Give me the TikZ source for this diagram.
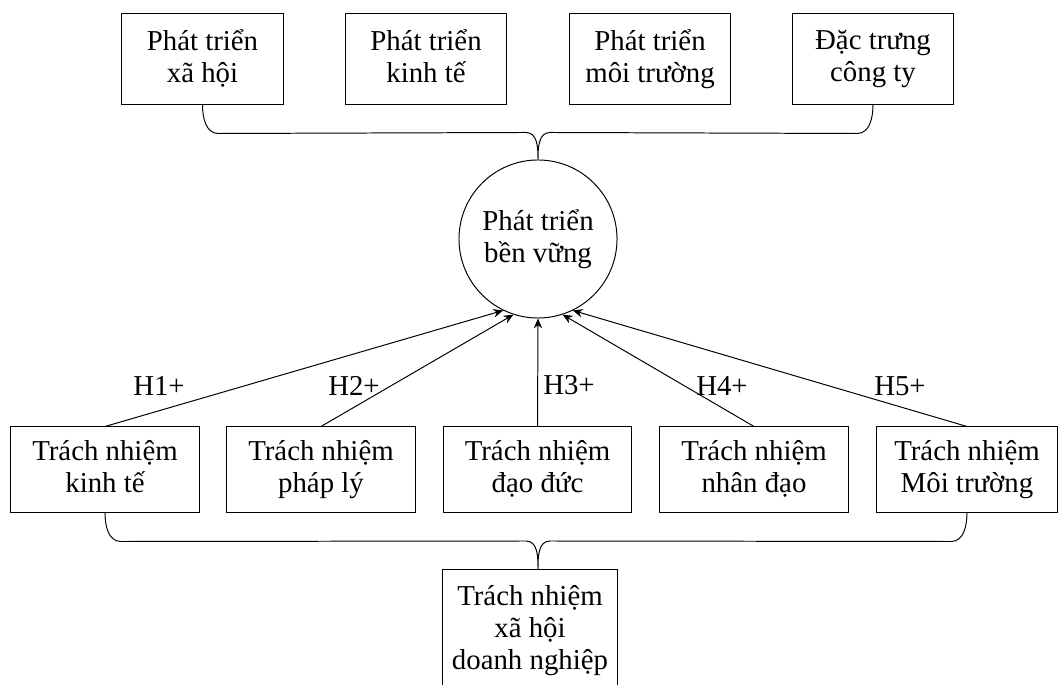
\documentclass[tikz,border=0pt]{standalone}
\usepackage{fontspec}
\setmainfont{Liberation Serif}
\usetikzlibrary{arrows.meta,calc}
\newcommand{\topstrut}{\rule{0pt}{26pt}}
\newcommand{\botstrut}{\rule[-4pt]{0pt}{4pt}}
\begin{document}
\lineskiplimit=-20pt\relax
\begin{tikzpicture}[x=0.025cm,y=0.025cm,
  font=\fontsize{20.5}{22.8}\selectfont,
  txt/.style={align=center,inner sep=0pt,
    execute at begin node=\topstrut,
    execute at end node=\botstrut},
  box/.style={draw,line width=0.7pt,txt,minimum width=4.7cm,minimum height=2.125cm},
  topbox/.style={box,minimum width=4.025cm,minimum height=2.25cm},
  arr/.style={draw,line width=0.7pt,-{Stealth[length=7pt,width=6pt]}},
  brace/.style={draw,line width=0.7pt}]
\useasboundingbox (0,0) rectangle (1058,684);
% top row
\node[topbox] (a1) at (202.5,625) {Phát triển\\xã hội};
\node[topbox] (a2) at (426,625) {Phát triển\\kinh tế};
\node[topbox] (a3) at (650,625) {Phát triển\\môi trường};
\node[topbox] (a4) at (873,625) {Đặc trưng\\công ty};
% centre
\node[draw,circle,line width=0.7pt,txt,minimum size=3.95cm] (c) at (538,445) {Phát triển\\bền vững};
% bottom row
\node[box] (b1) at (105,214.5) {Trách nhiệm\\kinh tế};
\node[box] (b2) at (321,214.5) {Trách nhiệm\\pháp lý};
\node[box] (b3) at (537.5,214.5) {Trách nhiệm\\đạo đức};
\node[box] (b4) at (754,214.5) {Trách nhiệm\\nhân đạo};
\node[box,minimum width=4.5cm] (b5) at (967,214.5) {Trách nhiệm\\Môi trường};
\node[box,anchor=north,minimum width=4.35cm,minimum height=3.05cm] (d) at (530,115) {Trách nhiệm\\xã hội\\doanh nghiệp};
\coordinate (dtip) at (c |- d.north);
% braces
\path[brace] (a1.south) to[out=-90,in=180] ($(a1.south)+(16,-29)$)
  -- ($(c.north)+(-12,27)$) to[out=0,in=90] (c.north)
  to[out=90,in=180] ($(c.north)+(12,27)$)
  -- ($(a4.south)+(-16,-29)$) to[out=0,in=-90] (a4.south);
\path[brace] (b1.south) to[out=-90,in=180] ($(b1.south)+(16,-29)$)
  -- ($(dtip)+(-12,28)$) to[out=0,in=90] (dtip)
  to[out=90,in=180] ($(dtip)+(12,28)$)
  -- ($(b5.south)+(-16,-29)$) to[out=0,in=-90] (b5.south);
% hypotheses
\path[arr] (b1.north) -- (c.244);
\path[arr] (b2.north) -- (c.252);
\path[arr] (b3.north) -- (c.270);
\path[arr] (b4.north) -- (c.288);
\path[arr] (b5.north) -- (c.296);
\node (h1) at (159,298) {H1+};
\node (h2) at (354,298) {H2+};
\node (h3) at (569,299) {H3+};
\node (h4) at (722,298) {H4+};
\node (h5) at (900,298) {H5+};
\end{tikzpicture}
\end{document}
